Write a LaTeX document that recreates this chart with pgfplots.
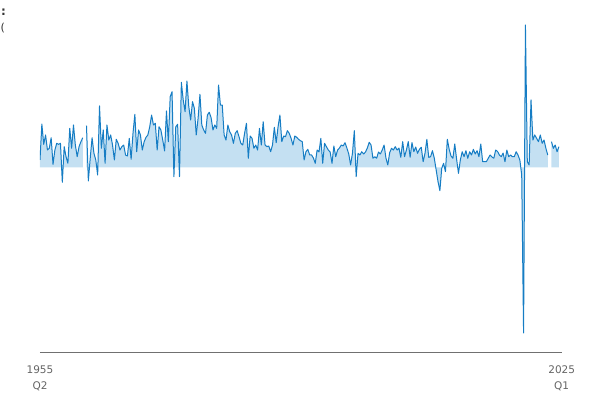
\documentclass[border=0pt]{standalone}
\usepackage{fontspec}
\setmainfont{DejaVu Sans}
\usepackage{pgfplots}
\usepackage{pgfplotstable}
\pgfplotsset{compat=1.18}
\definecolor{lineblue}{RGB}{22,125,196}
\definecolor{areablue}{RGB}{196,224,242}
\definecolor{axisgrey}{RGB}{112,112,112}
\definecolor{textgrey}{RGB}{100,100,100}

% quarter index (0 = 1955 Q2) and quarter-on-quarter growth
\pgfplotstableread{
q val
0 0.85
1 5.03
2 2.67
3 3.76
4 2.01
5 2.21
6 3.44
7 0.35
8 2.01
9 2.79
10 2.67
11 2.79
12 -1.74
13 2.40
14 1.23
15 0.47
16 4.53
17 2.21
18 4.92
19 2.59
20 1.23
21 2.40
22 2.98
23 3.44
}\segA

\pgfplotstableread{
q val
25 4.84
26 -1.59
27 1.05
28 3.44
29 1.63
30 0.85
31 -0.90
32 7.13
33 2.21
34 4.34
35 0.47
36 4.92
37 3.17
38 3.76
39 2.59
40 0.85
41 3.26
42 2.79
43 2.01
44 2.40
45 2.59
46 1.43
47 1.31
48 3.37
49 0.93
50 3.95
51 6.16
52 1.81
53 4.34
54 3.76
55 2.01
56 2.98
57 3.49
58 3.76
59 4.72
60 6.08
61 4.92
62 5.12
63 2.01
64 4.72
65 4.34
66 3.17
67 1.90
68 6.55
69 2.98
70 8.21
71 8.79
72 -1.09
73 4.72
74 5.00
75 -1.09
76 9.88
77 7.83
78 6.47
79 10.03
80 7.05
81 5.50
82 7.63
83 6.86
84 3.76
85 5.70
86 8.49
87 4.92
88 4.34
89 3.95
90 6.08
91 6.40
92 5.77
93 4.34
94 4.92
95 4.53
96 9.57
97 7.24
98 7.24
99 3.76
100 3.17
101 4.92
102 4.14
103 3.76
104 2.79
105 3.95
106 4.26
107 3.56
108 2.79
109 2.59
110 3.95
111 5.12
112 1.05
113 3.64
114 3.37
115 2.21
116 2.59
117 2.01
118 4.53
119 2.59
120 5.30
121 2.59
122 2.40
123 2.48
124 1.81
125 2.59
126 4.65
127 2.86
128 4.72
129 6.08
130 2.98
131 3.64
132 3.56
133 4.26
134 3.95
135 3.37
136 2.59
137 3.64
138 3.49
139 3.26
140 3.09
141 2.98
142 0.85
143 1.81
144 2.09
145 1.43
146 1.43
147 1.08
148 0.47
149 2.01
150 1.78
151 3.37
152 0.47
153 2.79
154 2.40
155 2.01
156 1.78
157 0.47
158 2.48
159 1.23
160 2.01
161 2.24
162 2.59
163 2.48
164 2.86
165 2.24
166 1.55
167 0.27
168 1.63
169 4.26
170 -1.09
171 1.63
172 1.43
173 1.81
174 1.55
175 1.78
176 2.24
177 2.91
178 2.59
179 1.05
180 1.23
181 1.05
182 1.78
183 1.55
184 2.01
185 2.59
186 1.08
187 0.27
188 1.70
189 2.21
190 2.01
191 2.40
192 2.01
193 2.24
194 1.16
195 2.98
196 1.23
197 2.01
198 2.98
199 1.16
200 2.86
201 1.81
202 2.36
203 1.63
204 2.09
205 2.33
206 0.65
207 1.63
208 3.26
209 1.16
210 1.23
211 1.93
212 1.05
213 -0.31
214 -1.67
215 -2.72
216 -0.12
217 0.47
218 -0.51
219 3.26
220 2.09
221 1.31
222 1.05
223 2.71
224 0.93
225 -0.70
226 0.85
227 1.81
228 1.23
229 1.93
230 1.05
231 1.81
232 1.43
233 2.09
234 1.55
235 1.93
236 1.23
237 2.71
238 0.65
239 0.65
240 0.65
241 1.05
242 1.43
243 1.20
244 1.05
245 2.01
246 1.84
247 1.43
248 1.23
249 1.66
250 0.65
251 2.01
252 1.23
253 1.43
254 1.23
255 1.23
256 1.81
257 1.43
258 0.85
259 -0.90
260 -19.27
261 16.55
262 0.65
263 0.27
264 7.83
265 3.17
266 3.76
267 3.37
268 2.98
269 3.76
270 2.79
271 3.17
272 2.21
273 1.43
}\segB

\pgfplotstableread{
q val
275 2.98
276 2.21
277 2.59
278 1.81
279 2.40
}\segC

\begin{document}
\begin{tikzpicture}[x=1pt,y=1pt]
\path[use as bounding box] (0,0) rectangle (600,400);
\node[anchor=west, inner sep=0pt, text=black!80, font=\fontsize{12}{14}\selectfont\bfseries] at (1,388) {:};
\node[anchor=west, inner sep=0pt, text=black!80, font=\fontsize{11}{13}\selectfont] at (0.5,372) {(};
\begin{axis}[
    at={(40pt,48pt)}, anchor=south west,
    scale only axis,
    width=521.7pt, height=332pt,
    xmin=0, xmax=280.5,
    ymin=-21.48, ymax=17.13,
    axis x line*=bottom,
    axis y line=none,
    axis line style={draw=axisgrey, line width=0.8pt, -},
    xtick={0,280.5},
    xticklabels={{1955\\Q2},{2025\\Q1}},
    major tick length=0pt,
    xticklabel style={align=center, text=textgrey,
        font=\fontsize{10.5}{16}\selectfont, yshift=-10pt},
    ytick=\empty,
]
\addplot[draw=none, fill=areablue] table[x=q, y=val] {\segA} \closedcycle;
\addplot[draw=none, fill=areablue] table[x=q, y=val] {\segB} \closedcycle;
\addplot[draw=none, fill=areablue] table[x=q, y=val] {\segC} \closedcycle;
\addplot[lineblue, line width=1pt, line join=round, mark=none] table[x=q, y=val] {\segA};
\addplot[lineblue, line width=1pt, line join=round, mark=none] table[x=q, y=val] {\segB};
\addplot[lineblue, line width=1pt, line join=round, mark=none] table[x=q, y=val] {\segC};
\end{axis}
\end{tikzpicture}
\end{document}
